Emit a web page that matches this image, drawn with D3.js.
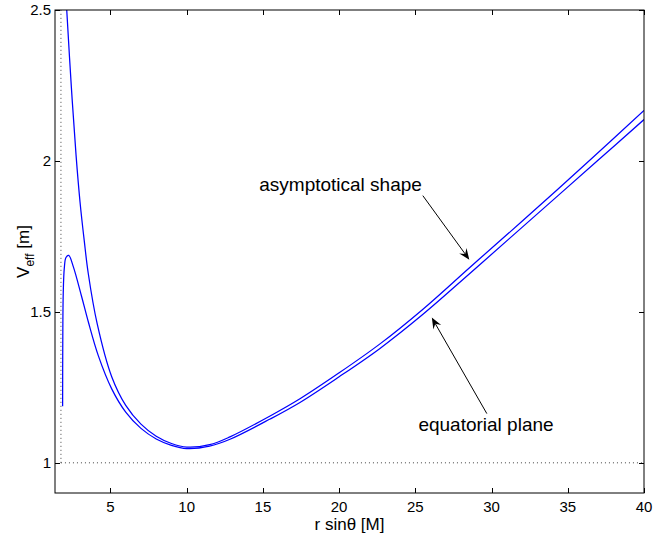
<!DOCTYPE html>
<html>
<head>
<meta charset="utf-8">
<script src="https://cdn.jsdelivr.net/npm/d3@7"></script>
<style>
  html, body { margin: 0; padding: 0; background: #fff; }
  svg { display: block; font-family: "Liberation Sans", Arial, Helvetica, sans-serif; }
</style>
</head>
<body>
<svg id="chart" width="653" height="538"></svg>
<script>
// Effective potential against cylindrical radius r sinθ
const xTicks = [5, 10, 15, 20, 25, 30, 35, 40];
const yTicks = [1, 1.5, 2, 2.5];
const xDomain = [1.36, 40];
const yDomain = [0.9, 2.5];

// asymptotical shape: r sinθ and V_eff
const asymR = [2.05, 2.13, 2.43, 2.74, 3.0, 3.28, 3.54, 4.13, 5.08, 6.0, 7.0, 8.0, 9.0, 10.0, 11.5, 12.84, 15.47, 17.43, 20.0, 22.68, 25.5, 28.59, 32.0, 36.46, 40.0];
const asymV = [2.57, 2.5, 2.247, 2.02, 1.865, 1.735, 1.628, 1.46, 1.285, 1.19, 1.128, 1.088, 1.064, 1.052, 1.06, 1.086, 1.155, 1.212, 1.298, 1.394, 1.509, 1.648, 1.8, 2.003, 2.167];

// equatorial plane: r sinθ and V_eff
const eqR = [1.86, 1.87, 1.9, 1.97, 2.08, 2.26, 2.56, 3.11, 3.54, 4.2, 5.08, 6.0, 7.0, 8.0, 9.0, 10.0, 11.5, 12.84, 15.47, 17.43, 20.0, 22.68, 25.5, 28.59, 32.0, 37.0, 40.0];
const eqV = [1.187, 1.4, 1.56, 1.645, 1.68, 1.687, 1.65, 1.55, 1.468, 1.355, 1.245, 1.168, 1.114, 1.079, 1.058, 1.047, 1.055, 1.078, 1.145, 1.2, 1.285, 1.379, 1.492, 1.628, 1.78, 2.003, 2.137];

// reference levels: horizon radius and rest-mass level
const horizonR = 1.75;
const restLevel = 1;

// annotations: label, text anchor, arrow tail, arrow tip (data units)
const noteLabels = ["asymptotical shape", "equatorial plane"];
const noteText = [[14.76, 1.899], [25.2, 1.104]];
const noteTail = [[25.49, 1.885], [29.69, 1.163]];
const noteTip = [[28.54, 1.673], [26.08, 1.481]];

const svg = d3.select("#chart");
const m = { left: 55, right: 644, top: 10, bottom: 493 };

const x = d3.scaleLinear().domain(xDomain).range([m.left, m.right]);
const y = d3.scaleLinear().domain(yDomain).range([m.bottom, m.top]);

svg.append("defs").append("clipPath").attr("id", "plotArea")
  .append("rect")
  .attr("x", m.left).attr("y", m.top)
  .attr("width", m.right - m.left).attr("height", m.bottom - m.top);

const plot = svg.append("g").attr("clip-path", "url(#plotArea)");

// dotted guides
plot.append("line")
  .attr("x1", x(horizonR)).attr("x2", x(horizonR))
  .attr("y1", y(restLevel)).attr("y2", y(yDomain[1]))
  .attr("stroke", "#444").attr("stroke-width", 1).attr("stroke-dasharray", "1,3");
plot.append("line")
  .attr("x1", x(horizonR)).attr("x2", x(xDomain[1]))
  .attr("y1", y(restLevel)).attr("y2", y(restLevel))
  .attr("stroke", "#444").attr("stroke-width", 1).attr("stroke-dasharray", "1,3");

const line = d3.line()
  .x(d => x(d[0])).y(d => y(d[1]))
  .curve(d3.curveCatmullRom.alpha(0.5));

[[asymR, asymV], [eqR, eqV]].forEach(([rs, vs]) => {
  plot.append("path")
    .datum(rs.map((r, i) => [r, vs[i]]))
    .attr("d", line)
    .attr("fill", "none")
    .attr("stroke", "#0000ff")
    .attr("stroke-width", 1.25);
});

// axes box with inward ticks on all four sides
const tickLen = 5;
const axes = svg.append("g").attr("stroke", "#000").attr("stroke-width", 1);
axes.append("rect")
  .attr("x", m.left).attr("y", m.top)
  .attr("width", m.right - m.left).attr("height", m.bottom - m.top)
  .attr("fill", "none");

xTicks.forEach(t => {
  const px = Math.round(x(t)) + 0.5;
  axes.append("line").attr("x1", px).attr("x2", px).attr("y1", m.bottom).attr("y2", m.bottom - tickLen);
  axes.append("line").attr("x1", px).attr("x2", px).attr("y1", m.top).attr("y2", m.top + tickLen);
});
yTicks.forEach(t => {
  const py = Math.round(y(t)) + 0.5;
  axes.append("line").attr("x1", m.left).attr("x2", m.left + tickLen).attr("y1", py).attr("y2", py);
  axes.append("line").attr("x1", m.right).attr("x2", m.right - tickLen).attr("y1", py).attr("y2", py);
});

const labels = svg.append("g").attr("fill", "#000").attr("font-size", 15);
xTicks.forEach(t => {
  labels.append("text")
    .attr("x", x(t)).attr("y", m.bottom + 19)
    .attr("text-anchor", "middle")
    .text(d3.format("d")(t));
});
yTicks.forEach(t => {
  labels.append("text")
    .attr("x", m.left - 4).attr("y", y(t) + 5)
    .attr("text-anchor", "end")
    .text(t === 1 || t === 2 ? String(t) : d3.format(".1f")(t));
});

// axis titles
svg.append("text")
  .attr("x", (m.left + m.right) / 2).attr("y", 530)
  .attr("text-anchor", "middle").attr("font-size", 17)
  .text("r sinθ [M]");

const yTitle = svg.append("text")
  .attr("transform", `translate(29,${(m.top + m.bottom) / 2}) rotate(-90)`)
  .attr("text-anchor", "middle").attr("font-size", 17);
yTitle.append("tspan").text("V");
yTitle.append("tspan").attr("font-size", 12).attr("dy", 5).text("eff");
yTitle.append("tspan").attr("dy", -5).text(" [m]");

// annotations with arrows
const notes = svg.append("g");
noteLabels.forEach((label, i) => {
  notes.append("text")
    .attr("x", x(noteText[i][0])).attr("y", y(noteText[i][1]))
    .attr("font-size", 19).attr("fill", "#000")
    .text(label);

  const x0 = x(noteTail[i][0]), y0 = y(noteTail[i][1]);
  const x1 = x(noteTip[i][0]), y1 = y(noteTip[i][1]);
  const ang = Math.atan2(y1 - y0, x1 - x0);
  const L = 11, W = 4.5, notch = 7;
  const ux = Math.cos(ang), uy = Math.sin(ang);
  const nx = -uy, ny = ux;
  const bx = x1 - ux * L, by = y1 - uy * L;
  const cx = x1 - ux * notch, cy = y1 - uy * notch;

  notes.append("line")
    .attr("x1", x0).attr("y1", y0).attr("x2", cx).attr("y2", cy)
    .attr("stroke", "#000").attr("stroke-width", 1);
  notes.append("path")
    .attr("d", `M${x1},${y1}L${bx + nx * W},${by + ny * W}L${cx},${cy}L${bx - nx * W},${by - ny * W}Z`)
    .attr("fill", "#000");
});
</script>
</body>
</html>
